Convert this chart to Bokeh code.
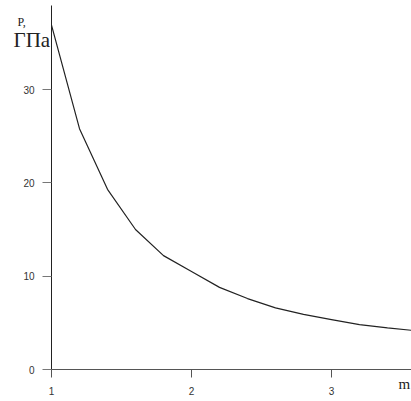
from bokeh.plotting import figure
from bokeh.models import FixedTicker, Label, LinearAxis, Range1d
from bokeh.embed import file_html
from bokeh.resources import INLINE

# pressure P (GPa) versus m
m_values = [1.0, 1.2, 1.4, 1.6, 1.8, 2.0, 2.2, 2.4, 2.6, 2.8, 3.0, 3.2, 3.4, 3.57]
p_values = [36.9, 25.8, 19.3, 15.0, 12.2, 10.5, 8.8, 7.6, 6.6, 5.9, 5.35, 4.8, 4.45, 4.2]

x_ticks = [1, 2, 3]
y_ticks = [0, 10, 20, 30]

# pixel scale: 140 px per unit of m, 93.3 px per 10 GPa
px_x = 140.0
px_y = 364.0 / 39.0

SERIF = "'Liberation Serif', 'Times New Roman', serif"
SANS = "'Liberation Sans', Arial, sans-serif"

p = figure(width=411, height=401, output_backend="svg", toolbar_location=None,
           x_range=Range1d(1 - 51 / px_x, 1 + 360 / px_x),
           y_range=Range1d(-32 / px_y, 39 + 5 / px_y),
           x_axis_location=None, y_axis_location=None,
           min_border=0)
p.outline_line_color = None
p.grid.visible = False
p.background_fill_color = "white"
p.border_fill_color = "white"

p.line(m_values, p_values, line_color="#222222", line_width=1.2)

xaxis = LinearAxis(fixed_location=0, bounds=(1, 1 + 360 / px_x))
yaxis = LinearAxis(fixed_location=1, bounds=(0, 39))
p.add_layout(xaxis, "below")
p.add_layout(yaxis, "left")

for ax, ticks in ((xaxis, x_ticks), (yaxis, y_ticks)):
    ax.ticker = FixedTicker(ticks=ticks, minor_ticks=[])
    ax.major_tick_in = 0
    ax.minor_tick_line_color = None
    ax.major_label_text_font = SANS
    ax.major_label_text_font_size = "10px"
    ax.major_label_text_color = "#333333"

xaxis.axis_line_color = "#555555"
xaxis.major_tick_line_color = "#555555"
xaxis.major_tick_out = 8
xaxis.major_label_standoff = 9

yaxis.axis_line_color = "#222222"
yaxis.major_tick_line_color = "#777777"
yaxis.major_tick_out = 9
yaxis.major_label_standoff = 8

p.add_layout(Label(x=1 + (17 - 51) / px_x, y=(369 - 14) / px_y, text="P,",
                   text_font=SERIF, text_font_size="12px",
                   text_color="#222222", text_baseline="top"))
p.add_layout(Label(x=1 + (13 - 51) / px_x, y=(369 - 27) / px_y, text="ГПа",
                   text_font=SERIF, text_font_size="21px",
                   text_color="#222222", text_baseline="top"))
p.add_layout(Label(x=1 + (398 - 51) / px_x, y=(369 - 375) / px_y, text="m",
                   text_font=SERIF, text_font_size="15px",
                   text_color="#222222", text_baseline="top"))

open("out.html", "w").write(file_html(p, INLINE))
